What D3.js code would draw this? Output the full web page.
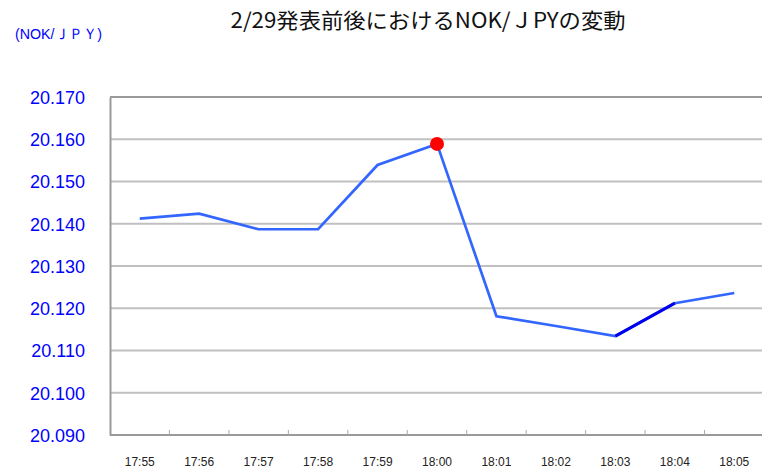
<!DOCTYPE html>
<html lang="ja">
<head>
<meta charset="UTF-8">
<title>2/29発表前後におけるNOK/ＪPYの変動</title>
<script src="https://d3js.org/d3.v7.min.js"></script>
<style>
  body { margin: 0; background: #fff; }
  svg { display: block; font-family: 'Liberation Sans', Arial, sans-serif; }
  .grid line { stroke: #c0c0c0; stroke-width: 2px; }
</style>
</head>
<body>
<div id="chart"></div>
<script>
// data
const times = ["17:55", "17:56", "17:57", "17:58", "17:59", "18:00", "18:01", "18:02", "18:03", "18:04", "18:05"];
const rates = [20.1412, 20.1424, 20.1387, 20.1387, 20.1539, 20.1589, 20.1181, 20.1158, 20.1134, 20.1212, 20.1236];
const yTicks = [20.09, 20.10, 20.11, 20.12, 20.13, 20.14, 20.15, 20.16, 20.17];
const markIndex = 5;     // red dot at the announcement
const darkSegment = 8;   // segment 18:03 -> 18:04 is drawn darker

const W = 762, H = 469;
const margin = {top: 97, right: -2, bottom: 34, left: 110};
const width = W - margin.left - margin.right,
      height = H - margin.top - margin.bottom;

const svg = d3.select("#chart").append("svg")
    .attr("width", W).attr("height", H);

// title + unit label
svg.append("text")
    .attr("x", 428).attr("y", 28)
    .attr("text-anchor", "middle")
    .attr("textLength", 395)
    .attr("lengthAdjust", "spacingAndGlyphs")
    .style("font-family", "'Noto Sans CJK JP', sans-serif")
    .style("font-size", "21px")
    .style("fill", "#111")
    .text("2/29発表前後におけるNOK/ＪPYの変動");

svg.append("text")
    .attr("x", 15).attr("y", 39)
    .attr("textLength", 87)
    .attr("lengthAdjust", "spacingAndGlyphs")
    .style("font-size", "15px")
    .style("fill", "#0000ff")
    .text("(NOK/ＪＰＹ)");

const g = svg.append("g")
    .attr("transform", `translate(${margin.left},${margin.top})`);

const x = d3.scaleBand().domain(times).range([0, width]).padding(0);
const y = d3.scaleLinear().domain([20.09, 20.17]).range([height, 0]);

// horizontal grid
g.append("g").attr("class", "grid")
    .selectAll("line")
    .data(yTicks.slice(1, -1))
    .join("line")
    .attr("x1", 0).attr("x2", width)
    .attr("y1", d => y(d)).attr("y2", d => y(d));

// top border
g.append("line")
    .attr("x1", 0).attr("x2", width)
    .attr("y1", 0).attr("y2", 0)
    .attr("stroke", "#999").attr("stroke-width", 2);

// y axis
const yAxis = g.append("g")
    .call(d3.axisLeft(y).tickValues(yTicks).tickFormat(d3.format(".3f")).tickSize(0).tickPadding(25));
yAxis.select(".domain").attr("stroke", "#999").attr("stroke-width", 2);
yAxis.selectAll("text")
    .style("font-size", "18px")
    .style("fill", "#0000ff")
    .attr("dy", "0.35em");

// x axis, ticks between categories pointing inward
const xAxis = g.append("g")
    .attr("transform", `translate(0,${height})`)
    .call(d3.axisBottom(x).tickSize(0).tickPadding(22));
xAxis.select(".domain").remove();
xAxis.selectAll("text")
    .style("font-size", "12px")
    .style("fill", "#222");
g.append("line")
    .attr("x1", 0).attr("x2", width)
    .attr("y1", height).attr("y2", height)
    .attr("stroke", "#999").attr("stroke-width", 2);
g.append("g")
    .selectAll("line")
    .data(times.slice(1))
    .join("line")
    .attr("x1", d => x(d)).attr("x2", d => x(d))
    .attr("y1", height).attr("y2", height - 5)
    .attr("stroke", "#aaa").attr("stroke-width", 1);

// line
const cx = d => x(d) + x.bandwidth() / 2;
const pts = times.map((t, i) => [cx(t), y(rates[i])]);
g.append("path")
    .datum(pts)
    .attr("d", d3.line())
    .attr("fill", "none")
    .attr("stroke", "#3366ff")
    .attr("stroke-width", 2.7);

g.append("path")
    .datum(pts.slice(darkSegment, darkSegment + 2))
    .attr("d", d3.line())
    .attr("fill", "none")
    .attr("stroke", "#0000ee")
    .attr("stroke-width", 3);

g.append("circle")
    .attr("cx", cx(times[markIndex]))
    .attr("cy", y(rates[markIndex]))
    .attr("r", 7)
    .attr("fill", "#ff0000");
</script>
</body>
</html>
